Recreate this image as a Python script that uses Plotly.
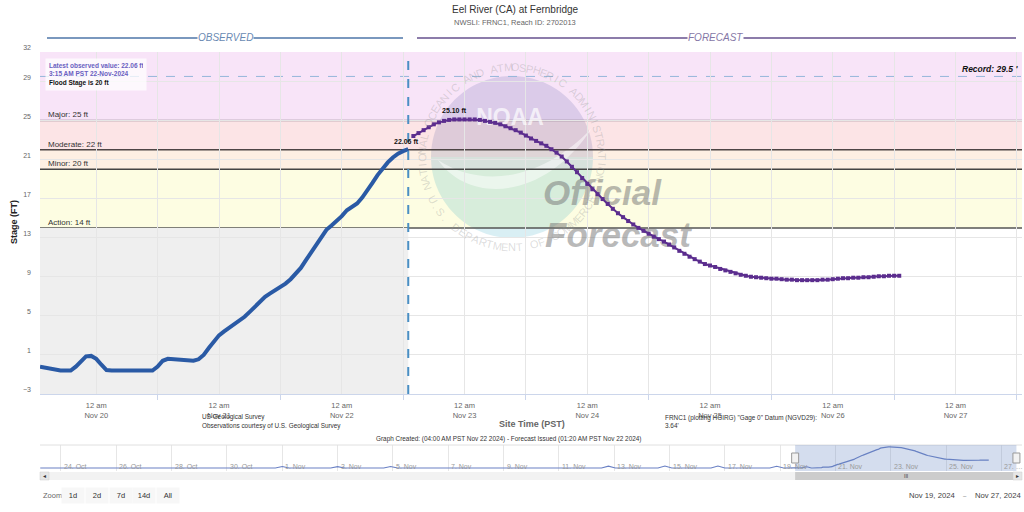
import math
import pandas as pd
import plotly.graph_objects as go

# ---------------- data ----------------
obs_start = "2024-11-19 13:00"          # hourly observed stage (ft)
obs_stage = [
    -0.2, -0.3, -0.5, -0.6, -0.6, -0.6, -0.6, -0.2,
    0.4, 0.85, 0.9, 0.6, 0.0, -0.55, -0.6, -0.6,
    -0.6, -0.6, -0.6, -0.6, -0.6, -0.6, -0.6, -0.2,
    0.4, 0.6, 0.55, 0.45, 0.4, 0.4, 0.4, 0.55,
    1.0, 1.7, 2.4, 3.0, 3.4, 3.75, 4.1, 4.5,
    4.9, 5.4, 5.9, 6.5, 6.95, 7.3, 7.6, 7.95,
    8.3, 8.75, 9.3, 9.9, 10.7, 11.5, 12.3, 13.1,
    13.8, 14.25, 14.7, 15.2, 15.8, 16.1, 16.5, 17.1,
    17.8, 18.6, 19.4, 20.1, 20.7, 21.2, 21.6, 21.85,
    22.06,
]
fc_start = "2024-11-22 14:00"           # hourly forecast stage (ft)
fc_stage = [
    23.4, 23.7, 24.0, 24.3, 24.6, 24.8, 24.95, 25.05,
    25.1, 25.1, 25.1, 25.1, 25.1, 25.05, 24.95, 24.85,
    24.75, 24.6, 24.4, 24.2, 24.0, 23.75, 23.45, 23.15,
    22.9, 22.65, 22.4, 22.05, 21.7, 21.3, 20.8, 20.25,
    19.7, 19.1, 18.5, 17.95, 17.45, 16.95, 16.45, 15.95,
    15.5, 15.1, 14.7, 14.35, 14.0, 13.7, 13.4, 13.1,
    12.85, 12.6, 12.3, 12.0, 11.65, 11.35, 11.05, 10.8,
    10.55, 10.3, 10.15, 10.0, 9.8, 9.65, 9.5, 9.35,
    9.2, 9.1, 9.0, 8.95, 8.9, 8.85, 8.8, 8.8,
    8.75, 8.7, 8.7, 8.65, 8.65, 8.65, 8.65, 8.65,
    8.7, 8.7, 8.75, 8.8, 8.85, 8.85, 8.9, 8.9,
    8.95, 8.95, 9.0, 9.05, 9.05, 9.1, 9.1, 9.1,
]
hist_times = [
    "2024-10-23 06:00", "2024-10-31 18:00", "2024-11-01 00:00", "2024-11-01 06:00",
    "2024-11-02 18:00", "2024-11-03 00:00", "2024-11-03 06:00", "2024-11-04 16:00",
    "2024-11-04 22:00", "2024-11-05 04:00", "2024-11-12 13:00", "2024-11-12 19:00",
    "2024-11-13 01:00", "2024-11-14 14:00", "2024-11-14 20:00", "2024-11-15 02:00",
    "2024-11-16 12:00", "2024-11-16 18:00", "2024-11-17 00:00", "2024-11-18 15:00",
    "2024-11-18 21:00", "2024-11-19 03:00", "2024-11-19 12:00",
]
hist_stage = [
    -0.6, -0.6, 1.2, -0.6,
    -0.6, 1.0, -0.6, -0.6,
    1.2, -0.6, -0.6, 1.6,
    -0.6, -0.6, 1.8, -0.6,
    -0.6, 1.8, -0.6, -0.6,
    1.5, -0.6, -0.4,
]
flood_names = ["Action", "Minor", "Moderate", "Major"]
flood_stages = [14, 20, 22, 25]
record_stage = 29.5
y_tick_vals = [-3, 1, 5, 9, 13, 17, 21, 25, 29, 32]
x_tick_days = ["2024-11-20", "2024-11-21", "2024-11-22", "2024-11-23",
               "2024-11-24", "2024-11-25", "2024-11-26", "2024-11-27"]
x_tick_text = ["12 am<br>Nov 20", "12 am<br>Nov 21", "12 am<br>Nov 22", "12 am<br>Nov 23",
               "12 am<br>Nov 24", "12 am<br>Nov 25", "12 am<br>Nov 26", "12 am<br>Nov 27"]
nav_tick_days = ["2024-10-24", "2024-10-26", "2024-10-28", "2024-10-30", "2024-11-01",
                 "2024-11-03", "2024-11-05", "2024-11-07", "2024-11-09", "2024-11-11",
                 "2024-11-13", "2024-11-15", "2024-11-17", "2024-11-19", "2024-11-21",
                 "2024-11-23", "2024-11-25", "2024-11-27"]
nav_tick_text = ["24. Oct", "26. Oct", "28. Oct", "30. Oct", "1. Nov", "3. Nov", "5. Nov",
                 "7. Nov", "9. Nov", "11. Nov", "13. Nov", "15. Nov", "17. Nov", "19. Nov",
                 "21. Nov", "23. Nov", "25. Nov", "27. …"]
latest_time_text = "3:15 AM PST 22-Nov-2024"
flood_stage = 20

# ---------------- derived ----------------
obs_times = pd.date_range(obs_start, periods=len(obs_stage), freq="h")
fc_times = pd.date_range(fc_start, periods=len(fc_stage), freq="h")
noon_ticks = [pd.Timestamp(d) + pd.Timedelta(hours=12) for d in x_tick_days]
view_start = pd.Timestamp("2024-11-19 13:00")
view_end = pd.Timestamp("2024-11-27 13:00")
nav_start = pd.Timestamp("2024-10-23 05:47")
nav_end = pd.Timestamp("2024-11-27 17:50")

FONT = "Liberation Sans, Arial, sans-serif"

# pixel -> paper helpers (paper area: x 40..1022, y 52..482)
L, R, T, B = 40, 1022, 52, 482
def px(x):
    return (x - L) / (R - L)
def py(y):
    return (B - y) / (B - T)
YB, YT = 394, 52
def yd(y):   # pixel y -> stage units on main axis
    return -3 + (YB - y) * 35.0 / (YB - YT)
def xdate(x):  # pixel x -> date on main axis
    return view_start + (x - L) / (R - L) * (view_end - view_start)

fig = go.Figure()
# watermark words, drawn beneath the data
for s, xx, yy, sz, col in [("<b>NOAA</b>", 510, 119, 23, "rgba(255,255,255,0.7)"),
                           ("<b><i>Official</i></b>", 602, 196, 35, "rgba(115,115,115,0.5)"),
                           ("<b><i>Forecast</i></b>", 618, 238, 35, "rgba(115,115,115,0.5)")]:
    fig.add_trace(go.Scatter(x=[xdate(xx)], y=[yd(yy)], mode="text", text=[s],
                             textposition="middle center",
                             textfont=dict(size=sz, color=col, family=FONT),
                             hoverinfo="skip"))
fig.add_trace(go.Scatter(x=obs_times, y=obs_stage, mode="lines",
                         line=dict(color="#2a5aa5", width=4), hoverinfo="skip"))
fig.add_trace(go.Scatter(x=fc_times, y=fc_stage, mode="lines+markers",
                         line=dict(color="#5b2d8e", width=2),
                         marker=dict(symbol="square", size=4, color="#5b2d8e"),
                         hoverinfo="skip"))
nav_x = list(pd.to_datetime(hist_times)) + list(obs_times) + list(fc_times)
nav_y = hist_stage + obs_stage + fc_stage
fig.add_trace(go.Scatter(x=nav_x, y=nav_y, mode="lines", xaxis="x2", yaxis="y2",
                         line=dict(color="#6a80c4", width=1.2), hoverinfo="skip"))

shapes = []
# observed background
shapes.append(dict(type="rect", xref="x", yref="y", x0=view_start, x1=obs_times[-1],
                   y0=-3, y1=flood_stages[0], fillcolor="#efefef", line=dict(width=0),
                   layer="below"))
band_cols = ["#fdfde2", "#fdefe3", "#fce4e6", "#f8e4f8"]
band_edges = flood_stages + [32]
for i, c in enumerate(band_cols):
    shapes.append(dict(type="rect", xref="paper", yref="y", x0=0, x1=1,
                       y0=band_edges[i], y1=band_edges[i + 1], fillcolor=c,
                       line=dict(width=0), layer="below"))

# NOAA-like watermark disk
cx, cy, rr = 512, 157, 81
k = 0.5523
def P(x, y):
    return f"{px(x):.5f},{yd(y):.4f}"
top_half = (f"M {P(cx-rr, cy)} C {P(cx-rr, cy-k*rr)} {P(cx-k*rr, cy-rr)} {P(cx, cy-rr)} "
            f"C {P(cx+k*rr, cy-rr)} {P(cx+rr, cy-k*rr)} {P(cx+rr, cy)} Z")
bot_half = (f"M {P(cx-rr, cy)} C {P(cx-rr, cy+k*rr)} {P(cx-k*rr, cy+rr)} {P(cx, cy+rr)} "
            f"C {P(cx+k*rr, cy+rr)} {P(cx+rr, cy+k*rr)} {P(cx+rr, cy)} Z")
swoosh = (f"M {P(438, 160)} C {P(470, 205)} {P(545, 200)} {P(592, 128)} "
          f"C {P(540, 182)} {P(480, 188)} {P(438, 160)} Z")
shapes.append(dict(type="path", xref="paper", yref="y", path=top_half,
                   fillcolor="rgba(40,60,140,0.14)", line=dict(width=0), layer="below"))
shapes.append(dict(type="path", xref="paper", yref="y", path=bot_half,
                   fillcolor="rgba(0,150,180,0.15)", line=dict(width=0), layer="below"))
shapes.append(dict(type="path", xref="paper", yref="y", path=swoosh,
                   fillcolor="rgba(255,255,255,0.5)", line=dict(width=0), layer="below"))

# flood lines
line_cols = ["#555555", "#444444", "#4d4545", "#8f8090"]
for v, c in zip(flood_stages, line_cols):
    shapes.append(dict(type="line", xref="paper", yref="y", x0=0, x1=1, y0=v, y1=v,
                       line=dict(color=c, width=1.5), layer="below"))
shapes.append(dict(type="line", xref="paper", yref="y", x0=0, x1=1, y0=record_stage,
                   y1=record_stage, line=dict(color="#94b6da", width=1, dash="dash"),
                   layer="below"))
# now line
shapes.append(dict(type="line", xref="x", yref="paper", x0=obs_times[-1], x1=obs_times[-1],
                   y0=py(YB), y1=1, line=dict(color="#4a8fc4", width=2, dash="dash"),
                   layer="above"))
# observed / forecast brackets
shapes.append(dict(type="line", xref="paper", yref="paper", x0=px(47), x1=px(403),
                   y0=py(38), y1=py(38), line=dict(color="#7a98be", width=2)))
shapes.append(dict(type="line", xref="paper", yref="paper", x0=px(417), x1=px(1016),
                   y0=py(38), y1=py(38), line=dict(color="#8c7caa", width=2)))

# navigator decorations
shapes.append(dict(type="line", xref="paper", yref="paper", x0=0, x1=1, y0=py(445),
                   y1=py(445), line=dict(color="#e0e0e0", width=1)))
shapes.append(dict(type="rect", xref="x2", yref="paper", x0=view_start, x1=view_end,
                   y0=py(471), y1=py(445), fillcolor="rgba(102,133,194,0.28)",
                   line=dict(width=0), layer="above"))
shapes.append(dict(type="rect", xref="paper", yref="paper", x0=0, x1=1, y0=py(480),
                   y1=py(472), fillcolor="#f2f2f2", line=dict(width=0)))
shapes.append(dict(type="rect", xref="x2", yref="paper", x0=view_start, x1=view_end,
                   y0=py(480), y1=py(472), fillcolor="#cccccc", line=dict(width=0),
                   layer="above"))
for xa, xb in [(40, 49), (1013, 1022)]:
    shapes.append(dict(type="rect", xref="paper", yref="paper", x0=px(xa), x1=px(xb),
                       y0=py(480), y1=py(472), fillcolor="#e6e6e6",
                       line=dict(color="#cccccc", width=0.5), layer="above"))
for t in [view_start, view_end]:
    shapes.append(dict(type="rect", xref="x2", yref="paper", xsizemode="pixel",
                       xanchor=t, x0=-3.5, x1=3.5, y0=py(463), y1=py(453),
                       fillcolor="#f2f2f2", line=dict(color="#999999", width=1),
                       layer="above"))

ann = []
def text(x, y, s, size, color="#333333", xanchor="center", **kw):
    d = dict(x=x, y=y, xref="paper", yref="paper", text=s, showarrow=False,
             xanchor=xanchor, yanchor="middle", font=dict(size=size, color=color, family=FONT))
    d.update(kw)
    ann.append(d)

# watermark ring text
ring_col = "rgba(150,150,150,0.33)"
top_txt = "NATIONAL OCEANIC AND ATMOSPHERIC ADMINISTRATION"
for i, ch in enumerate(top_txt):
    if ch == " ":
        continue
    th = 199 - i * 213.0 / (len(top_txt) - 1)
    xx = cx + 90 * math.cos(math.radians(th))
    yy = cy - 90 * math.sin(math.radians(th))
    text(px(xx), py(yy), ch, 11, ring_col, textangle=90 - th)
bot_txt = "U.S. DEPARTMENT OF COMMERCE"
for i, ch in enumerate(bot_txt):
    if ch == " ":
        continue
    th = 208 + i * 124.0 / (len(bot_txt) - 1)
    xx = cx + 90 * math.cos(math.radians(th))
    yy = cy - 90 * math.sin(math.radians(th))
    text(px(xx), py(yy), ch, 11, ring_col, textangle=270 - th)

# titles
text(px(515), py(10), "Eel River (CA) at Fernbridge", 10, "#333333")
text(px(515), py(23), "NWSLI: FRNC1, Reach ID: 2702013", 7.5, "#666666")
text(px(225), py(38), "<i>OBSERVED</i>", 10, "#6a8ab3", bgcolor="white", borderpad=0)
text(px(715), py(38), "<i>FORECAST</i>", 10, "#8577a6", bgcolor="white", borderpad=0)
text(px(14), py(222), "<b>Stage (FT)</b>", 9, "#222222", textangle=-90)
text(px(532), py(424), "<b>Site Time (PST)</b>", 9, "#666666")

# info box
info = (f"<span style='color:#6a5fc1'>Latest observed value: {obs_stage[-1]:.2f} ft</span><br>"
        f"<span style='color:#6a5fc1'>{latest_time_text}</span><br>"
        f"<span style='color:#111111'>Flood Stage is {flood_stage} ft</span>")
ann.append(dict(x=px(45), y=py(58), xref="paper", yref="paper", text="<b>" + info + "</b>",
                showarrow=False, xanchor="left", yanchor="top", align="left",
                bgcolor="rgba(255,255,255,0.75)", borderpad=3, width=94,
                font=dict(size=6.5, family=FONT)))

# flood labels
for n, v in zip(flood_names, flood_stages):
    ann.append(dict(x=px(46), y=v, xref="paper", yref="y", text=f"{n}: {v} ft",
                    showarrow=False, xanchor="left", yanchor="bottom", yshift=-1,
                    font=dict(size=8, color="#333333", family=FONT)))
ann.append(dict(x=px(1020), y=record_stage, xref="paper", yref="y",
                text=f"<b><i>Record: {record_stage} '</i></b>", showarrow=False,
                xanchor="right", yanchor="bottom", yshift=0,
                font=dict(size=8.5, color="#111111", family=FONT)))
# point labels
ann.append(dict(x=obs_times[-1], y=obs_stage[-1], xref="x", yref="y",
                text=f"<b>{obs_stage[-1]:.2f} ft</b>", showarrow=False, xanchor="center",
                yanchor="bottom", yshift=2, xshift=-2,
                font=dict(size=7, color="#111111", family=FONT)))
imax = fc_stage.index(max(fc_stage))
ann.append(dict(x=fc_times[imax], y=fc_stage[imax], xref="x", yref="y",
                text=f"<b>{fc_stage[imax]:.2f} ft</b>", showarrow=False, xanchor="center",
                yanchor="bottom", yshift=3,
                font=dict(size=7, color="#111111", family=FONT)))

# credits
CR = 6.4
text(px(200), py(417), "US Geological Survey", CR, "#333333", xanchor="left")
text(px(200), py(425.7), "Observations courtesy of U.S. Geological Survey", CR, "#333333", xanchor="left")
text(px(662.7), py(417.7), "FRNC1 (plotting HGIRG) \"Gage 0\" Datum (NGVD29):", CR, "#333333", xanchor="left")
text(px(662.7), py(425.7), "3.64'", CR, "#333333", xanchor="left")
text(px(508), py(438.7),
     "Graph Created: (04:00 AM PST Nov 22 2024) - Forecast Issued (01:20 AM PST Nov 22 2024)",
     CR, "#333333")

# navigator labels
for d, s in zip(nav_tick_days, nav_tick_text):
    ann.append(dict(x=d, y=py(466.5), xref="x2", yref="paper", text=s, showarrow=False,
                    xanchor="left", yanchor="middle", xshift=1,
                    font=dict(size=7, color="#9a9a9a", family=FONT)))
ann.append(dict(x=view_start + (view_end - view_start) / 2, y=py(476), xref="x2",
                yref="paper", text="III", showarrow=False, xanchor="center",
                yanchor="middle", font=dict(size=5, color="#333333", family=FONT)))
text(px(44.5), py(476), "◂", 6, "#333333")
text(px(1017.5), py(476), "▸", 6, "#333333")

# range selector
text(px(40.5), py(495.5), "Zoom", 7.5, "#666666", xanchor="left")
for s, c in zip(["1d", "2d", "7d", "14d", "All"], [73.3, 96.7, 120.7, 144.3, 168.3]):
    text(px(c), py(495.5), s, 7.5, "#333333", bgcolor="#f7f7f7", width=20, height=13)
text(px(932), py(495.5), "Nov 19, 2024", 7.7, "#444444")
text(px(965), py(495.5), "–", 6, "#666666")
text(px(997.5), py(495.5), "Nov 27, 2024", 7.7, "#444444")

fig.update_layout(
    width=1024, height=512, autosize=False,
    margin=dict(l=L, r=1024 - R, t=T, b=512 - B, pad=0),
    paper_bgcolor="white", plot_bgcolor="white",
    showlegend=False, hovermode=False,
    font=dict(family=FONT, color="#333333"),
    shapes=shapes, annotations=ann,
    xaxis=dict(domain=[0, 1], anchor="y", range=[view_start, view_end], type="date",
               tickmode="array", tickvals=x_tick_days, ticktext=x_tick_text,
               ticks="", showgrid=True, gridcolor="#e6e6e6", gridwidth=1,
               showline=True, linecolor="#ccd6eb", linewidth=1, zeroline=False,
               tickfont=dict(size=7.5, color="#666666"), ticklabelstandoff=4,
               minor=dict(tickmode="array", tickvals=noon_ticks, showgrid=True,
                          gridcolor="#e6e6e6", ticks="outside", ticklen=5,
                          tickcolor="#ccd6eb")),
    yaxis=dict(domain=[py(YB), py(YT)], anchor="x", range=[-3, 32],
               tickmode="array", tickvals=y_tick_vals, ticks="",
               showgrid=True, gridcolor="#e6e6e6", zeroline=False, showline=False,
               tickfont=dict(size=7, color="#666666"), ticklabelstandoff=8,
               ticklabelshift=-4),
    xaxis2=dict(domain=[0, 1], anchor="y2", range=[nav_start, nav_end], type="date",
                tickmode="array", tickvals=nav_tick_days, showticklabels=False,
                ticks="", showgrid=True, gridcolor="#e6e6e6", zeroline=False,
                showline=False),
    yaxis2=dict(domain=[py(471), py(445)], anchor="x2", range=[-4.27, 27.5],
                visible=False, showgrid=False, zeroline=False),
)

fig.write_html("out.html")
